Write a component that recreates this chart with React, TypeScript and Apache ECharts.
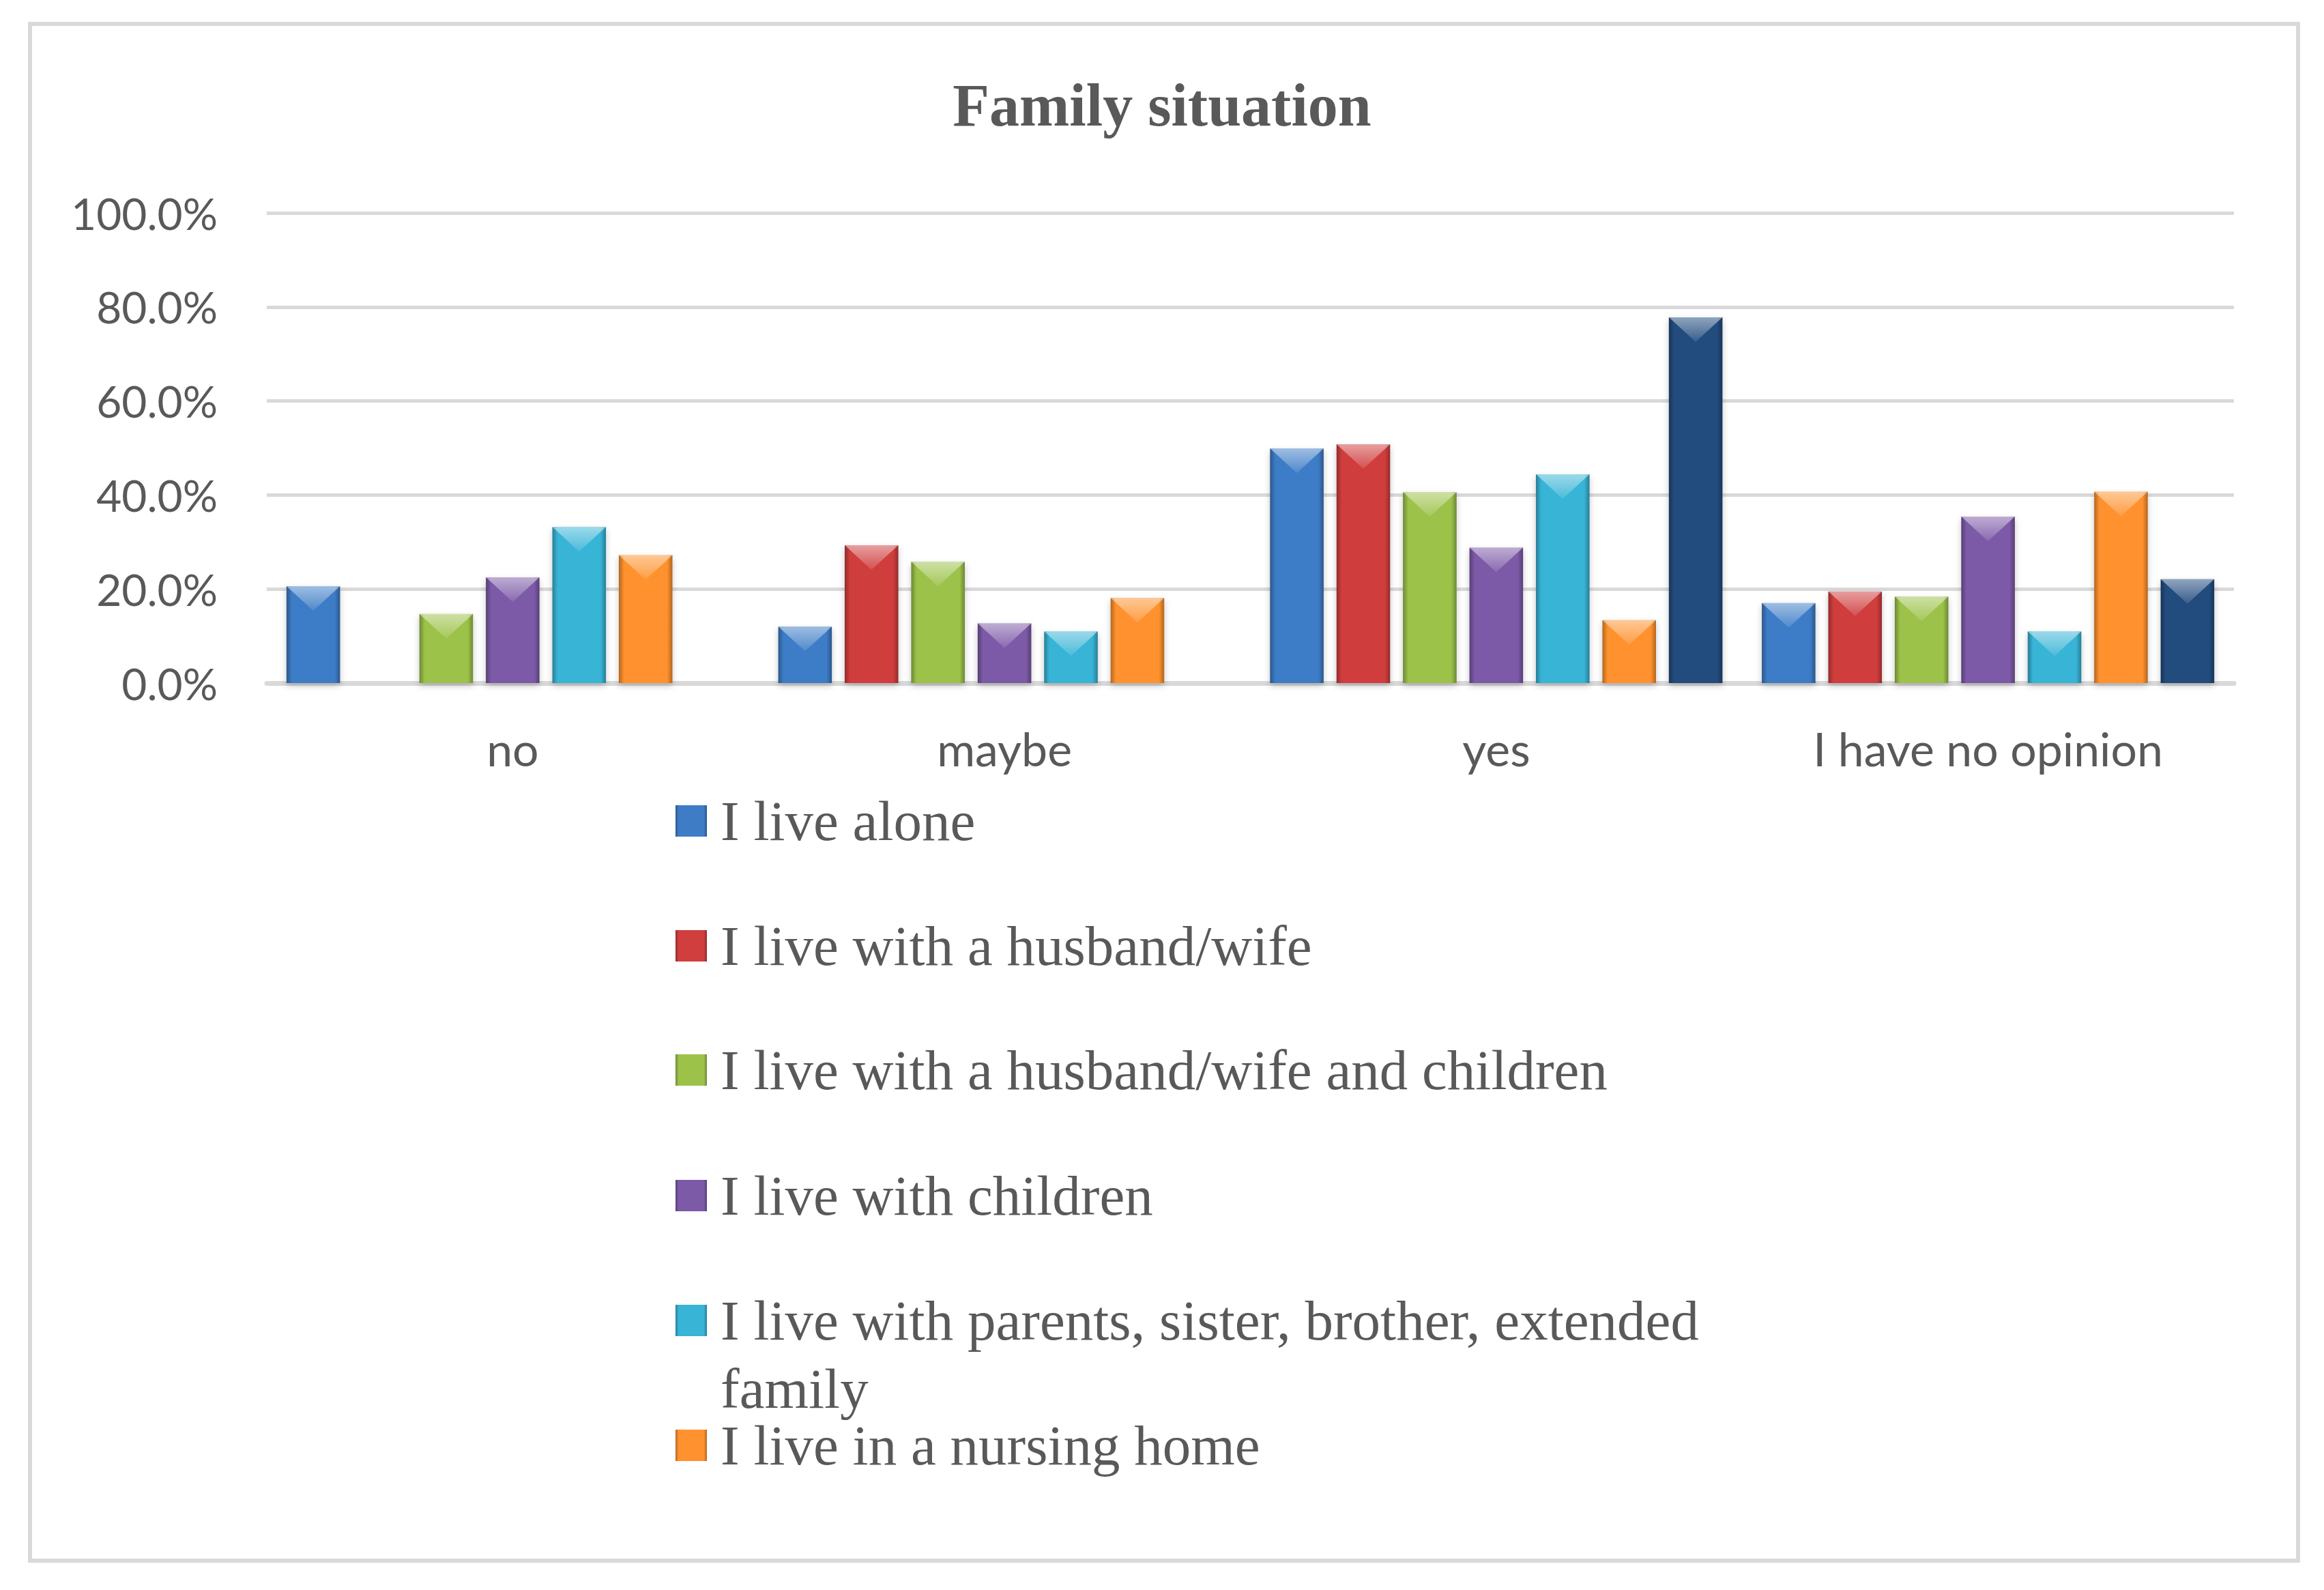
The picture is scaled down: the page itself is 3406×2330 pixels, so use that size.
import React, { useEffect, useRef } from "react";
import * as echarts from "echarts";

const categories = ["no", "maybe", "yes", "I have no opinion"];

const liveAlone = [20.6, 12.0, 49.9, 17.0];
const liveWithSpouse = [0, 29.3, 50.8, 19.5];
const liveWithSpouseChildren = [14.7, 25.8, 40.6, 18.4];
const liveWithChildren = [22.5, 12.7, 28.8, 35.4];
const liveWithParentsFamily = [33.2, 11.0, 44.4, 11.0];
const liveInNursingHome = [27.2, 18.1, 13.4, 40.7];
const otherSituation = [0, 0, 77.8, 22.1];

const seriesNames = [
  "I live alone",
  "I live with a husband/wife",
  "I live with a husband/wife and children",
  "I live with children",
  "I live with parents, sister, brother, extended family",
  "I live in a nursing home",
  "Other",
];
const seriesValues = [
  liveAlone,
  liveWithSpouse,
  liveWithSpouseChildren,
  liveWithChildren,
  liveWithParentsFamily,
  liveInNursingHome,
  otherSituation,
];
const legendNames = seriesNames.slice(0, 6);
const seriesColors = ["#3E7CC6", "#D03E3E", "#9CC24A", "#7C5AA7", "#38B4D6", "#FF922E", "#234C7E"];

const yMin = 0;
const yMax = 100;
const yInterval = 20;

function darken(hex: string, f: number): string {
  const n = parseInt(hex.slice(1), 16);
  const r = Math.round(((n >> 16) & 255) * f);
  const g = Math.round(((n >> 8) & 255) * f);
  const b = Math.round((n & 255) * f);
  return `rgb(${r},${g},${b})`;
}

function barGradient(hex: string) {
  return new echarts.graphic.LinearGradient(0, 0, 1, 0, [
    { offset: 0, color: darken(hex, 0.7) },
    { offset: 0.1, color: hex },
    { offset: 0.9, color: hex },
    { offset: 1, color: darken(hex, 0.7) },
  ]);
}

export default function App() {
  const ref = useRef<HTMLDivElement>(null);

  useEffect(() => {
    if (!ref.current) return;
    const chart = echarts.init(ref.current, undefined, { renderer: "svg" });

    const textColor = "#595959";
    const barGap = "24%";
    const barCategoryGap = "8%";

    const series: any[] = [];
    seriesNames.forEach((name, i) => {
      series.push({
        type: "bar",
        name,
        data: seriesValues[i],
        barGap,
        barCategoryGap,
        z: 2,
        itemStyle: {
          color: barGradient(seriesColors[i]),
          shadowBlur: 10,
          shadowColor: "rgba(0,0,0,0.22)",
          shadowOffsetY: 4,
        },
      });
    });
    seriesNames.forEach((name, i) => {
      series.push({
        type: "pictorialBar",
        name,
        data: seriesValues[i].map((v) => (v > 0 ? v : "-")),
        barGap,
        barCategoryGap,
        z: 3,
        silent: true,
        symbol: "triangle",
        symbolRotate: 180,
        symbolPosition: "end",
        symbolSize: ["100%", 36],
        itemStyle: {
          color: new echarts.graphic.LinearGradient(0, 0, 0, 1, [
            { offset: 0, color: "rgba(255,255,255,0.1)" },
            { offset: 1, color: "rgba(255,255,255,0.5)" },
          ]),
        },
      });
    });

    const iconCenters = [1203, 1386, 1568, 1752, 1935, 2118];
    const legends = legendNames.map((name, i) => {
      const wrapped = i === 4;
      const boxH = wrapped ? 300 : 100;
      return {
        data: [name],
        left: 990,
        top: iconCenters[i] - boxH / 2,
        orient: "vertical",
        padding: 0,
        itemWidth: 46,
        itemHeight: 46,
        icon: "rect",
        selectedMode: false,
        formatter: wrapped
          ? () => "\nI live with parents, sister, brother, extended\nfamily"
          : undefined,
        textStyle: {
          fontFamily: "Liberation Serif",
          fontSize: 83,
          lineHeight: 100,
          color: textColor,
          padding: [0, 0, 0, 15],
        },
      };
    });

    chart.setOption({
      animation: false,
      backgroundColor: "#ffffff",
      title: {
        text: "Family situation",
        left: "center",
        top: 110,
        padding: 0,
        textStyle: {
          fontFamily: "Liberation Serif",
          fontWeight: "bold",
          fontSize: 88,
          lineHeight: 88,
          color: textColor,
        },
      },
      legend: legends,
      grid: { left: 391, right: 132, top: 312, bottom: 1329, containLabel: false },
      xAxis: {
        type: "category",
        data: categories,
        axisTick: { show: false },
        axisLine: { lineStyle: { color: "#D9D9D9", width: 7 } },
        axisLabel: {
          fontFamily: "Lato",
          fontSize: 68,
          lineHeight: 68,
          color: textColor,
          margin: 61,
        },
      },
      yAxis: {
        type: "value",
        min: yMin,
        max: yMax,
        interval: yInterval,
        axisLine: { show: false },
        axisTick: { show: false },
        splitLine: { lineStyle: { color: "#D9D9D9", width: 5 } },
        axisLabel: {
          fontFamily: "Lato",
          fontSize: 64,
          color: textColor,
          margin: 72,
          formatter: (v: number) => v.toFixed(1) + "%",
        },
      },
      graphic: [
        {
          type: "rect",
          left: 41,
          top: 32,
          shape: { x: 0, y: 0, width: 3324, height: 2252 },
          style: { fill: "none", stroke: "#D9D9D9", lineWidth: 6 },
          silent: true,
          z: -1,
        },
      ],
      series,
    });

    return () => chart.dispose();
  }, []);

  return (
    <div
      ref={ref}
      style={{ position: "absolute", left: 0, top: 0, width: 3406, height: 2330, background: "#fff" }}
    />
  );
}
